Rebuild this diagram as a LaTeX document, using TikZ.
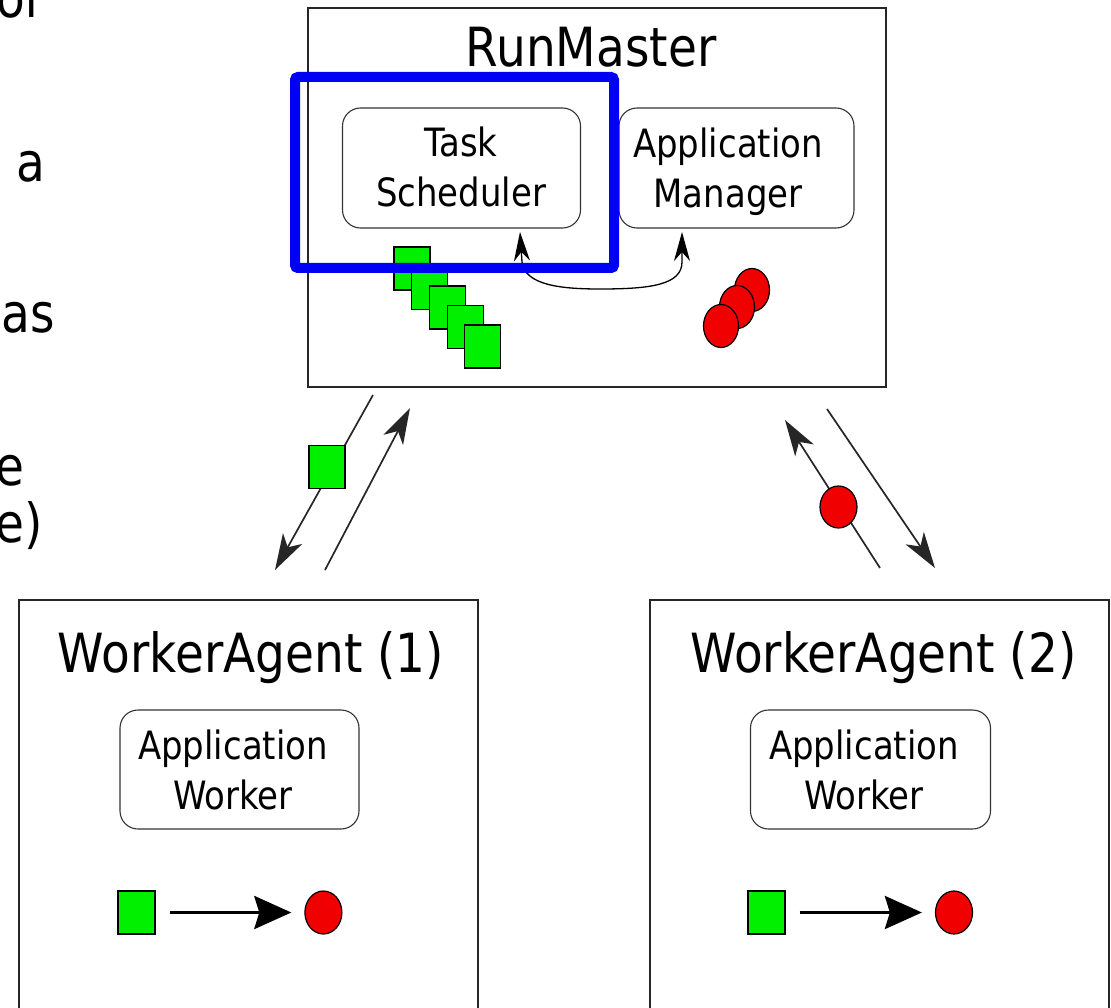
\documentclass[tikz,border=0pt]{standalone}
\usepackage{fontspec}
\setmainfont{DejaVu Sans}[FakeStretch=0.87]
\usetikzlibrary{arrows.meta,shapes.geometric}
\definecolor{sqgreen}{RGB}{0,240,0}
\definecolor{cired}{RGB}{240,0,0}
\definecolor{hlblue}{RGB}{0,0,245}
\begin{document}
\begin{tikzpicture}[x=1pt,y=-1pt,
  box/.style={draw=black!85, line width=1.4pt, inner sep=0pt},
  rbox/.style={draw=black!80, line width=1.1pt, rounded corners=18pt, inner sep=0pt, minimum width=238pt, minimum height=120pt},
  title/.style={inner sep=0pt, anchor=base, font=\fontsize{54}{63}\selectfont},
  frag/.style={inner sep=0pt, anchor=base east, font=\fontsize{54}{63}\selectfont},
  innertext/.style={inner sep=0pt, align=center, font=\fontsize{39}{50}\selectfont},
  task/.style={draw=black, line width=1.2pt, fill=sqgreen, minimum width=36pt, minimum height=43pt, inner sep=0pt},
  result/.style={ellipse, draw=black, line width=1.2pt, fill=cired, minimum width=36pt, minimum height=43pt, inner sep=0pt},
  smalltip/.tip={Stealth[length=29pt,width=16pt,inset=9pt]},
  bigtip/.tip={Stealth[length=37pt,width=33pt,inset=5pt]},
  linktip/.tip={Stealth[length=36pt,width=22pt,inset=10pt]},
  link/.style={draw=black!85, line width=1.7pt, -{linktip}}
]
\clip (0,0) rectangle (1111,1008);

% text fragments cut at the left edge
\node[inner sep=0pt, anchor=base west, font=\fontsize{54}{63}\selectfont] (f0) at (-4,18) {of};
\node[frag] (f1) at (45,182) {a};
\node[frag] (f2) at (55,333) {as};
\node[frag] (f3) at (25,485) {e};
\node[frag] (f4) at (43,542) {e)};

% RunMaster
\node[box, minimum width=578pt, minimum height=379pt] (rm) at (597,197.5) {};
\node[title] (rmt) at (591,67) {RunMaster};
\node[rbox] (ts) at (461.5,168) {};
\node[innertext] (tst) at (461,167.2) {Task\\Scheduler};
\node[rbox, minimum width=235pt] (am) at (736.5,168) {};
\node[innertext] (amt) at (728,171.3) {Application\\Manager};

\coordinate (tsa) at (520,232);
\coordinate (ama) at (682,232);
\draw[line width=1.3pt, {smalltip}-{smalltip}] (tsa) -- (522,262)
  .. controls (525,285) and (560,289) .. (600,289)
  .. controls (650,289) and (682,285) .. (682,262) -- (ama);

\foreach \i in {0,...,4}
  \node[task] (q\i) at ({412+\i*17.7},{268.5+\i*19.5}) {};

\node[result, minimum width=35pt] (r0) at (752,290) {};
\node[result, minimum width=35pt] (r1) at (737,307) {};
\node[result, minimum width=35pt] (r2) at (721,326) {};

% links between master and workers
\coordinate (a1s) at (373,395);
\coordinate (a1e) at (275,570);
\draw[link] (a1s) -- (a1e);
\node[task] (m1) at (327,467) {};
\coordinate (a2s) at (325,570);
\coordinate (a2e) at (410,408);
\draw[link] (a2s) -- (a2e);

\coordinate (a3s) at (880,568);
\coordinate (a3e) at (785,420);
\draw[link] (a3s) -- (a3e);
\node[result, minimum width=37pt, minimum height=42pt] (m2) at (838.5,507) {};
\coordinate (a4s) at (827,409);
\coordinate (a4e) at (935,568);
\draw[link] (a4s) -- (a4e);

% WorkerAgent (1)
\node[box, minimum width=459pt, minimum height=440pt] (wa1) at (248.5,820) {};
\node[title] (wa1t) at (251,672) {WorkerAgent (1)};
\node[rbox, minimum width=239pt, minimum height=119pt] (aw1) at (239.5,769.5) {};
\node[innertext] (aw1t) at (233,770.2) {Application\\Worker};
\node[task, minimum width=37pt] (s1) at (136.4,912.5) {};
\node[result, minimum width=37pt] (c1) at (323.4,912.5) {};
\draw[line width=3.5pt, -{bigtip}, shorten <=14pt, shorten >=13pt] (s1.east) -- (c1.west);

% WorkerAgent (2)
\node[box, minimum width=459pt, minimum height=440pt] (wa2) at (879.5,820) {};
\node[title] (wa2t) at (883.5,672) {WorkerAgent (2)};
\node[rbox, minimum width=240pt, minimum height=119pt] (aw2) at (870.5,769.5) {};
\node[innertext] (aw2t) at (864,770.2) {Application\\Worker};
\node[task, minimum width=37pt] (s2) at (766.4,912.5) {};
\node[result, minimum width=37pt] (c2) at (954,912.5) {};
\draw[line width=3.5pt, -{bigtip}, shorten <=14pt, shorten >=13pt] (s2.east) -- (c2.west);

% highlight
\draw[hlblue, line width=10pt, rounded corners=3pt] (295,77) rectangle (614,268);
\end{tikzpicture}
\end{document}
